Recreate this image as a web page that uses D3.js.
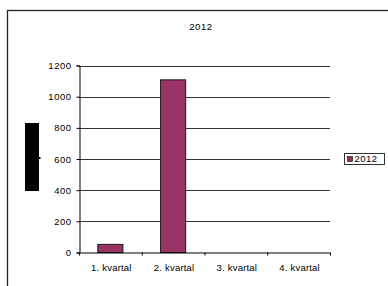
<!DOCTYPE html>
<html>
<head>
<meta charset="utf-8">
<script src="https://cdn.jsdelivr.net/npm/d3@7"></script>
<style>
  body { margin: 0; background: #fff; }
  svg { display: block; font-family: "Liberation Sans", Arial, sans-serif; }
</style>
</head>
<body>
<svg width="388" height="286"></svg>
<script>
// chart data
const categories = ["1. kvartal", "2. kvartal", "3. kvartal", "4. kvartal"];
const values2012 = [52, 1108, 0, 0];
const yTicks = [0, 200, 400, 600, 800, 1000, 1200];
const seriesName = "2012";

const svg = d3.select("svg");

// outer chart frame (runs off the right and bottom of the picture)
svg.append("rect")
  .attr("x", 7.5).attr("y", 10.5)
  .attr("width", 400).attr("height", 300)
  .attr("fill", "none")
  .attr("stroke", "#222")
  .attr("stroke-width", 1.3);

svg.append("text")
  .attr("x", 201).attr("y", 29.5)
  .attr("text-anchor", "middle")
  .style("font-size", "9.5px")
  .style("letter-spacing", "0.6px")
  .text(seriesName);

const plotLeft = 79, plotRight = 330, plotTop = 65.5, plotBottom = 252.5;

let y = d3.scaleLinear().domain([0, 1200]).range([plotBottom, plotTop]);
let x = d3.scaleBand().domain(categories).range([plotLeft, plotRight])
  .paddingInner(0.6).paddingOuter(0.3);

// gridlines
svg.append("g")
  .selectAll("line")
  .data(yTicks.filter(d => d > 0))
  .join("line")
  .attr("x1", plotLeft).attr("x2", plotRight)
  .attr("y1", d => Math.round(y(d)) + 0.5)
  .attr("y2", d => Math.round(y(d)) + 0.5)
  .attr("stroke", "#000")
  .attr("stroke-width", 0.8);

// y axis
const yAxis = svg.append("g")
  .attr("transform", `translate(${plotLeft + 0.5},0)`)
  .call(d3.axisLeft(y).tickValues(yTicks).tickFormat(d3.format("d"))
    .tickSize(3).tickPadding(5));
yAxis.selectAll("text")
  .style("font-size", "9.5px")
  .style("letter-spacing", "0.5px")
  .attr("fill", "#000");
yAxis.select(".domain").attr("stroke", "#000");

// bars
svg.append("g")
  .selectAll("rect")
  .data(categories.map((c, i) => ({cat: c, value: values2012[i]})).filter(d => d.value > 0))
  .join("rect")
  .attr("x", d => x(d.cat))
  .attr("y", d => y(d.value))
  .attr("width", x.bandwidth())
  .attr("height", d => plotBottom - y(d.value))
  .attr("fill", "#993366")
  .attr("stroke", "#1a1a1a")
  .attr("stroke-width", 1);

// x axis with ticks between categories
const step = x.step();
const xAxisG = svg.append("g");
xAxisG.append("line")
  .attr("x1", plotLeft).attr("x2", plotRight)
  .attr("y1", plotBottom + 0.5).attr("y2", plotBottom + 0.5)
  .attr("stroke", "#000");
xAxisG.selectAll("line.tick")
  .data(d3.range(categories.length + 1))
  .join("line")
  .attr("class", "tick")
  .attr("x1", i => plotLeft + i * step + 0.5)
  .attr("x2", i => plotLeft + i * step + 0.5)
  .attr("y1", plotBottom).attr("y2", plotBottom + 3)
  .attr("stroke", "#000");
xAxisG.selectAll("text")
  .data(categories)
  .join("text")
  .attr("x", d => x(d) + x.bandwidth() / 2 + 1)
  .attr("y", 271)
  .attr("text-anchor", "middle")
  .style("font-size", "9.5px")
  .style("letter-spacing", "0.2px")
  .text(d => d);

// y axis title (blacked out in the original)
svg.append("rect")
  .attr("x", 25).attr("y", 123)
  .attr("width", 14).attr("height", 68)
  .attr("fill", "#000");
svg.append("rect")
  .attr("x", 39).attr("y", 157)
  .attr("width", 1.5).attr("height", 2)
  .attr("fill", "#000");

// legend
const legend = svg.append("g").attr("transform", "translate(344.5,153.5)");
legend.append("rect")
  .attr("width", 40).attr("height", 11)
  .attr("fill", "#fff")
  .attr("stroke", "#333");
legend.append("rect")
  .attr("x", 3).attr("y", 3)
  .attr("width", 5).attr("height", 5)
  .attr("fill", "#993366")
  .attr("stroke", "#000")
  .attr("stroke-width", 0.6);
legend.append("text")
  .attr("x", 10).attr("y", 8.8)
  .style("font-size", "9.5px")
  .style("letter-spacing", "0.5px")
  .text(seriesName);
</script>
</body>
</html>
